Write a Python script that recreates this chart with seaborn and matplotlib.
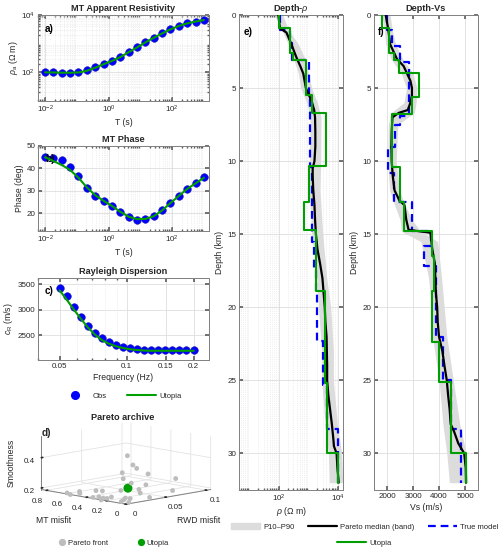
import numpy as np
import matplotlib
matplotlib.use("Agg")
import matplotlib.pyplot as plt
import matplotlib.ticker as mticker
from matplotlib.lines import Line2D
from matplotlib.patches import Patch
import seaborn as sns
import pandas as pd

sns.set_theme(style="ticks")
plt.rcParams['font.family'] = ['Liberation Sans', 'DejaVu Sans']
plt.rcParams['mathtext.fontset'] = 'custom'
plt.rcParams['mathtext.rm'] = 'Liberation Sans'
plt.rcParams['mathtext.it'] = 'Liberation Sans:italic'
plt.rcParams['mathtext.bf'] = 'Liberation Sans:bold'

# ---- MT data ----
period = [0.01, 0.01833, 0.0336, 0.06158, 0.1129, 0.2069, 0.3793, 0.6952, 1.274, 2.336,
          4.281, 7.848, 14.38, 26.37, 48.33, 88.59, 162.4, 297.6, 545.6, 1000.0]
rho_obs = [100, 102, 98, 95, 100, 117, 148, 195, 251, 339,
           513, 741, 1122, 1622, 2291, 3162, 4169, 5129, 5888, 6761]
rho_uto = [100, 99, 97, 97, 99, 113, 145, 192, 250, 340,
           505, 735, 1110, 1600, 2280, 3150, 4150, 5100, 5900, 6700]
phase_obs = [45.2, 44.8, 43.7, 40.7, 36.5, 31.1, 27.8, 25.5, 23.4, 20.4,
             18.2, 17.1, 17.4, 18.5, 21.2, 24.5, 27.8, 31.0, 33.5, 36.1]
phase_uto = [45.0, 43.3, 41.5, 39.3, 35.8, 31.5, 28.0, 25.5, 23.2, 20.6,
             18.4, 17.3, 17.4, 18.6, 21.2, 24.5, 27.7, 30.8, 33.3, 35.8]

# ---- Rayleigh dispersion ----
freq = [0.05, 0.05376, 0.0578, 0.06215, 0.06682, 0.07184, 0.07725, 0.08305, 0.0893, 0.09601,
        0.10323, 0.11099, 0.11934, 0.12831, 0.13795, 0.14833, 0.15948, 0.17147, 0.18436, 0.2]
c_obs = [3420, 3260, 3060, 2860, 2690, 2550, 2440, 2370, 2320, 2280,
         2250, 2240, 2220, 2220, 2215, 2215, 2215, 2220, 2220, 2220]
c_uto = [3380, 3200, 3010, 2830, 2660, 2520, 2410, 2340, 2290, 2255,
         2230, 2215, 2205, 2200, 2200, 2200, 2200, 2200, 2200, 2200]

# ---- Pareto archive ----
mt_misfit = [0.82, 0.60, 0.56, 0.58, 0.52, 0.34, 0.52, 0.48, 0.33, 0.27, 0.25, 0.24, 0.26,
             0.40, 0.12, 0.16, 0.08, 0.014, 0.12, 0.32, 0.34, 0.23, 0.44, 0.055, 0.14, 0.23,
             0.06, 0.37, 0.50, 0.53, 0.65, 0.71, 0.53]
rwd_misfit = [0.002, 0.001, 0.0, 0.014, 0.007, 0.001, 0.027, 0.030, 0.007, 0.005, 0.0, 0.006, 0.014,
              0.043, 0.012, 0.019, 0.004, 0.005, 0.020, 0.046, 0.058, 0.046, 0.079, 0.036, 0.075, 0.090,
              0.102, 0.073, 0.075, 0.074, 0.082, 0.083, 0.062]
smoothness = [0.22, 0.195, 0.19, 0.195, 0.195, 0.195, 0.195, 0.195, 0.195, 0.195, 0.19, 0.195, 0.195,
              0.195, 0.195, 0.195, 0.195, 0.195, 0.195, 0.25, 0.195, 0.195, 0.195, 0.195, 0.195, 0.25,
              0.255, 0.28, 0.30, 0.32, 0.36, 0.24, 0.24]
utopia_pt = [0.41, 0.053, 0.20]  # MT, RWD, smoothness

# ---- Depth-rho ----
rho_depth = [0, 0.9, 1.2, 2.0, 2.6, 3.0, 3.5, 4.0, 5.0, 5.5, 6.0, 6.5, 7.0, 8, 9, 10, 10.5, 11, 12, 13,
             14, 15, 16, 17, 18, 19, 20, 21, 22, 23, 24, 25, 26, 27, 28, 29, 29.5, 30, 31, 32]
rho_med = [95, 107, 178, 263, 339, 407, 525, 661, 813, 1047, 1318, 1549, 1660, 1698, 1698, 1585, 1380,
           1380, 1445, 1585, 1660, 1778, 1995, 2455, 2951, 3236, 3548, 3715, 4074, 4169, 4266, 4266,
           4677, 5370, 6166, 6918, 7244, 8913, 9550, 10471]
rho_band_depth = [0, 1, 2, 3, 4, 5, 6, 7, 10, 12, 15, 18, 20, 23, 25, 28, 30, 32]
rho_p10 = [73, 123, 207, 306, 452, 542, 866, 1125, 1067, 1067, 1279, 1891, 2153, 2793, 2793, 3623, 4699, 5079]
rho_p90 = [133, 207, 452, 760, 986, 1279, 1991, 2652, 2582, 2455, 3020, 4130, 5636, 6950, 6950, 9480, 13300, 14380]
rho_true_top = [0, 1.0, 1.9, 3.1, 5.6, 10.4, 15.5, 17.3, 19.0, 22.3, 25.3, 28.3]
rho_true = [107, 236, 283, 1000, 1130, 1280, 1500, 1850, 2000, 3000, 4300, 10200]
rho_uto_top = [0, 0.87, 2.6, 3.1, 5.5, 6.7, 10.3, 12.8, 14.7, 18.9, 25.2, 30.0]
rho_uto_layers = [100, 235, 305, 820, 1280, 3900, 1010, 700, 1800, 3630, 4170, 10200]

# ---- Depth-Vs ----
vs_depth = [0, 1, 2, 3, 3.5, 4, 4.5, 5, 5.5, 6, 6.5, 6.7, 7, 8, 9, 10, 11, 12, 12.7, 13, 14, 14.7, 14.9,
            16, 17, 18, 19, 20, 21, 22, 23, 24, 25, 26, 27, 28, 28.5, 29.3, 30, 31, 32]
vs_med = [1950, 2050, 2120, 2380, 2640, 2770, 2900, 2960, 2960, 2900, 2800, 2450, 2210, 2180, 2170, 2180,
          2220, 2290, 2480, 2670, 2740, 2830, 3670, 3740, 3840, 3860, 3880, 3930, 3950, 4000, 4130, 4210,
          4300, 4350, 4410, 4450, 4580, 4740, 4970, 5030, 5040]
vs_band_depth = [0, 1, 2, 3, 4, 5, 6, 6.7, 7.5, 10, 12, 12.8, 14, 14.8, 15.5, 18, 20, 22, 25, 28, 30, 32]
vs_p10 = [1800, 1900, 1950, 2150, 2550, 2750, 2650, 2150, 2050, 2030, 2100, 2250, 2500, 2550, 3300,
          3600, 3700, 3750, 4000, 4150, 4300, 4400]
vs_p90 = [2120, 2200, 2330, 2600, 3000, 3150, 3120, 3050, 2420, 2350, 2480, 2650, 2950, 3300, 3950,
          4100, 4200, 4300, 4550, 4800, 5050, 5100]
vs_true_top = [0, 1.0, 2.1, 3.2, 6.9, 7.5, 9.0, 10.8, 12.8, 14.8, 15.8, 17.2, 22.0, 25.0, 28.3]
vs_true = [2010, 2180, 2500, 2850, 2500, 2300, 2050, 2250, 2960, 3700, 3440, 3900, 4150, 4450, 4830]
vs_uto_top = [0, 0.9, 2.6, 3.1, 4.0, 5.6, 6.8, 10.4, 12.8, 14.8, 16.5, 18.9, 22.4, 25.1, 30.0]
vs_uto_layers = [1820, 2080, 2250, 2480, 3220, 2960, 2210, 2510, 2640, 3740, 3810, 3740, 4000, 4450, 5040]
max_depth = 32.0

BLUE = '#0000FF'
GREEN = '#009E00'
GRAY_PT = '#BDBDBD'
BAND = '#DCDCDC'
TXT = '#262626'
FS_TITLE = 6.6
FS_LABEL = 6.2
FS_TICK = 5.8
FS_LEG = 5.5

W, H = 500, 552


def rect(l, t, r, b):
    return [l / W, 1 - b / H, (r - l) / W, (b - t) / H]


def steps(tops, vals, bottom):
    edges = list(tops) + [bottom]
    xs, ys = [], []
    for i, v in enumerate(vals):
        xs += [v, v]
        ys += [edges[i], edges[i + 1]]
    return pd.DataFrame({'v': xs, 'z': ys})


def style(ax, minor=True):
    for s in ax.spines.values():
        s.set_color('#808080')
        s.set_linewidth(0.7)
    ax.tick_params(which='both', direction='in', top=True, right=True,
                   color='#606060', labelcolor=TXT, labelsize=FS_TICK, length=3, pad=2)
    ax.tick_params(which='minor', length=1.5)
    ax.grid(True, which='major', color='#DEDEDE', lw=0.6)
    if minor:
        ax.grid(True, which='minor', color='#E2E2E2', lw=0.5, ls=':')
    ax.set_axisbelow(True)


def panel_label(ax, s, x=0.04, y=0.93):
    ax.text(x, y, s, transform=ax.transAxes, fontsize=7.2, fontweight='bold',
            va='top', ha='left', color='black')


fig = plt.figure(figsize=(W / 100, H / 100), dpi=100)

mt_df = pd.DataFrame({'T': period, 'rho_obs': rho_obs, 'rho_uto': rho_uto,
                      'ph_obs': phase_obs, 'ph_uto': phase_uto})
rw_df = pd.DataFrame({'f': freq, 'c_obs': c_obs, 'c_uto': c_uto})

# a) apparent resistivity
ax_a = fig.add_axes(rect(38, 15, 209, 101))
sns.scatterplot(data=mt_df, x='T', y='rho_obs', ax=ax_a, color=BLUE, s=30, edgecolor='#1a1ab0',
                linewidth=0.4, zorder=3)
sns.lineplot(data=mt_df, x='T', y='rho_uto', ax=ax_a, color=GREEN, lw=1.5, sort=False,
             estimator=None, zorder=4)
ax_a.set_xscale('log')
ax_a.set_yscale('log')
ax_a.set_xlim(0.006, 1450)
ax_a.set_ylim(10, 1e4)
ax_a.set_xticks([1e-2, 1, 1e2])
ax_a.set_yticks([1e2, 1e4])
ax_a.set_xlabel('T (s)', fontsize=FS_LABEL, color=TXT, labelpad=2)
ax_a.set_ylabel(r'$\rho_\mathrm{a}$ (Ω m)', fontsize=FS_LABEL, color=TXT, labelpad=1)
ax_a.set_title('MT Apparent Resistivity', fontsize=FS_TITLE, fontweight='bold', pad=3)
style(ax_a)
panel_label(ax_a, 'a)', y=0.9)

# b) phase
ax_b = fig.add_axes(rect(38, 146, 209, 231))
sns.scatterplot(data=mt_df, x='T', y='ph_obs', ax=ax_b, color=BLUE, s=30, edgecolor='#1a1ab0',
                linewidth=0.4, zorder=3)
sns.lineplot(data=mt_df, x='T', y='ph_uto', ax=ax_b, color=GREEN, lw=1.5, sort=False,
             estimator=None, zorder=4)
ax_b.set_xscale('log')
ax_b.set_xlim(0.006, 1450)
ax_b.set_ylim(12, 50)
ax_b.set_xticks([1e-2, 1, 1e2])
ax_b.set_yticks([20, 30, 40, 50])
ax_b.set_xlabel('T (s)', fontsize=FS_LABEL, color=TXT, labelpad=2)
ax_b.set_ylabel('Phase (deg)', fontsize=FS_LABEL, color=TXT, labelpad=2)
ax_b.set_title('MT Phase', fontsize=FS_TITLE, fontweight='bold', pad=3)
style(ax_b)
panel_label(ax_b, 'b)', y=0.9)

# c) Rayleigh
ax_c = fig.add_axes(rect(38, 278, 209, 360))
sns.scatterplot(data=rw_df, x='f', y='c_obs', ax=ax_c, color=BLUE, s=30, edgecolor='#1a1ab0',
                linewidth=0.4, zorder=3)
sns.lineplot(data=rw_df, x='f', y='c_uto', ax=ax_c, color=GREEN, lw=1.5, sort=False,
             estimator=None, zorder=4)
ax_c.set_xscale('log')
ax_c.set_xlim(0.04, 0.234)
ax_c.set_ylim(2020, 3620)
ax_c.set_xticks([0.05, 0.1, 0.15, 0.2])
ax_c.xaxis.set_major_formatter(mticker.FuncFormatter(lambda v, p: f'{v:g}'))
ax_c.xaxis.set_minor_formatter(mticker.NullFormatter())
ax_c.set_yticks([2500, 3000, 3500])
ax_c.set_xlabel('Frequency (Hz)', fontsize=FS_LABEL, color=TXT, labelpad=2)
ax_c.set_ylabel(r'$c_\mathrm{R}$ (m/s)', fontsize=FS_LABEL, color=TXT, labelpad=2)
ax_c.set_title('Rayleigh Dispersion', fontsize=FS_TITLE, fontweight='bold', pad=3)
style(ax_c)
panel_label(ax_c, 'c)', y=0.9)

h_obs = Line2D([], [], ls='none', marker='o', color=BLUE, markersize=5.5)
h_uto = Line2D([], [], color=GREEN, lw=1.5)
fig.legend([h_obs, h_uto], ['Obs', 'Utopia'], loc='center', bbox_to_anchor=(0.242, 1 - 396 / H),
           ncol=2, frameon=False, fontsize=FS_LEG, handlelength=3.8, columnspacing=2.6,
           handletextpad=0.4)

# d) Pareto archive (3D)
ax_d = fig.add_axes(rect(49, 390, 199, 540), projection='3d')
ax_d.set_proj_type('ortho')
ax_d.scatter(rwd_misfit, mt_misfit, smoothness, color=GRAY_PT, s=12, depthshade=False, edgecolor='none')
ax_d.scatter([utopia_pt[1]], [utopia_pt[0]], [utopia_pt[2]], color=GREEN, s=42, depthshade=False,
             edgecolor='none')
ax_d.set_xlim(0, 0.105)
ax_d.set_ylim(0, 0.85)
ax_d.set_zlim(0.19, 0.54)
ax_d.set_xticks([0, 0.05, 0.1])
ax_d.set_yticks([0, 0.2, 0.4, 0.6, 0.8])
ax_d.set_zticks([0.2, 0.4])
for axis in (ax_d.xaxis, ax_d.yaxis, ax_d.zaxis):
    axis.set_major_formatter(mticker.FuncFormatter(lambda v, p: f'{v:g}'))
    axis.set_pane_color((1, 1, 1, 1))
    axis._axinfo['grid']['color'] = '#E3E3E3'
    axis._axinfo['grid']['linewidth'] = 0.6
    axis._axinfo['tick']['inward_factor'] = 0.0
    axis._axinfo['tick']['outward_factor'] = 0.2
    axis.line.set_color('#808080')
    axis.line.set_linewidth(0.7)
ax_d.view_init(elev=10, azim=-135)
ax_d.set_box_aspect((1, 1, 0.45), zoom=1.15)
ax_d.tick_params(labelsize=FS_TICK, colors=TXT, pad=-2)
ax_d.zaxis.set_tick_params(pad=-4)
ax_d.xaxis.set_rotate_label(False)
ax_d.yaxis.set_rotate_label(False)
ax_d.zaxis.set_rotate_label(False)
ax_d.set_xlabel('RWD misfit', fontsize=FS_LABEL, color=TXT, labelpad=-1, rotation=0)
ax_d.set_ylabel('MT misfit', fontsize=FS_LABEL, color=TXT, labelpad=-1, rotation=0)
ax_d.set_zlabel('Smoothness', fontsize=FS_LABEL, color=TXT, labelpad=-11, rotation=90)
fig.text(123 / W, 1 - 418 / H, 'Pareto archive', ha='center', va='center', fontsize=FS_TITLE,
         fontweight='bold')
fig.text(42 / W, 1 - 433 / H, 'd)', ha='left', va='center', fontsize=7.2, fontweight='bold')

h_pf = Line2D([], [], ls='none', marker='o', color=GRAY_PT, markersize=4.2)
h_up = Line2D([], [], ls='none', marker='o', color=GREEN, markersize=4.2)
fig.legend([h_pf, h_up], ['Pareto front', 'Utopia'], loc='center', bbox_to_anchor=(0.228, 1 - 543 / H),
           ncol=2, frameon=False, fontsize=FS_LEG, handlelength=0.8, columnspacing=3.8,
           handletextpad=0.4)

# e) Depth-rho
rho_df = pd.DataFrame({'v': rho_med, 'z': rho_depth})
ax_e = fig.add_axes(rect(239, 15, 343, 490))
ax_e.fill_betweenx(rho_band_depth, rho_p10, rho_p90, color=BAND, lw=0, zorder=1)
sns.lineplot(data=steps(rho_true_top, rho_true, max_depth), x='v', y='z', ax=ax_e, sort=False,
             estimator=None, color=BLUE, lw=1.6, dashes=(3.5, 2.2), zorder=3)
sns.lineplot(data=rho_df, x='v', y='z', ax=ax_e, sort=False, estimator=None, color='black', lw=1.6, zorder=4)
sns.lineplot(data=steps(rho_uto_top, rho_uto_layers, max_depth), x='v', y='z', ax=ax_e, sort=False,
             estimator=None, color=GREEN, lw=1.5, zorder=5)
ax_e.set_xscale('log')
ax_e.set_xlim(4.4, 14700)
ax_e.set_ylim(32.5, 0)
ax_e.set_xticks([1e2, 1e4])
ax_e.set_yticks([0, 5, 10, 15, 20, 25, 30])
ax_e.set_xlabel(r'$\rho$ (Ω m)', fontsize=FS_LABEL, color=TXT, labelpad=1)
ax_e.set_ylabel('Depth (km)', fontsize=FS_LABEL, color=TXT, labelpad=2)
ax_e.set_title(r'Depth-$\rho$', fontsize=FS_TITLE, fontweight='bold', pad=3)
style(ax_e)
ax_e.grid(False, which='minor', axis='y')
panel_label(ax_e, 'e)', x=0.04, y=0.975)

# f) Depth-Vs
vs_df = pd.DataFrame({'v': vs_med, 'z': vs_depth})
ax_f = fig.add_axes(rect(374, 15, 478, 490))
ax_f.fill_betweenx(vs_band_depth, vs_p10, vs_p90, color=BAND, lw=0, zorder=1)
sns.lineplot(data=steps(vs_true_top, vs_true, max_depth), x='v', y='z', ax=ax_f, sort=False,
             estimator=None, color=BLUE, lw=1.6, dashes=(3.5, 2.2), zorder=3)
sns.lineplot(data=vs_df, x='v', y='z', ax=ax_f, sort=False, estimator=None, color='black', lw=1.6, zorder=4)
sns.lineplot(data=steps(vs_uto_top, vs_uto_layers, max_depth), x='v', y='z', ax=ax_f, sort=False,
             estimator=None, color=GREEN, lw=1.5, zorder=5)
ax_f.set_xlim(1500, 5500)
ax_f.set_ylim(32.5, 0)
ax_f.set_xticks([2000, 3000, 4000, 5000])
ax_f.set_yticks([0, 5, 10, 15, 20, 25, 30])
ax_f.set_xlabel('Vs (m/s)', fontsize=FS_LABEL, color=TXT, labelpad=2)
ax_f.set_ylabel('Depth (km)', fontsize=FS_LABEL, color=TXT, labelpad=2)
ax_f.set_title('Depth-Vs', fontsize=FS_TITLE, fontweight='bold', pad=3)
style(ax_f, minor=False)
panel_label(ax_f, 'f)', x=0.04, y=0.975)

h_band = Patch(color=BAND)
h_med = Line2D([], [], color='black', lw=1.6)
h_true = Line2D([], [], color=BLUE, lw=1.6, dashes=(3.5, 2.2))
h_u2 = Line2D([], [], color=GREEN, lw=1.5)
fig.legend([h_band, h_med, h_true], ['P10–P90', 'Pareto median (band)', 'True model'], loc='center',
           bbox_to_anchor=(365 / W, 1 - 527 / H), ncol=3, frameon=False, fontsize=FS_LEG,
           handlelength=3.8, columnspacing=1.8, handletextpad=0.4)
fig.legend([h_u2], ['Utopia'], loc='center', bbox_to_anchor=(364 / W, 1 - 543 / H), frameon=False,
           fontsize=FS_LEG, handlelength=3.8, handletextpad=0.4)

fig.savefig('out.png', dpi=100)
